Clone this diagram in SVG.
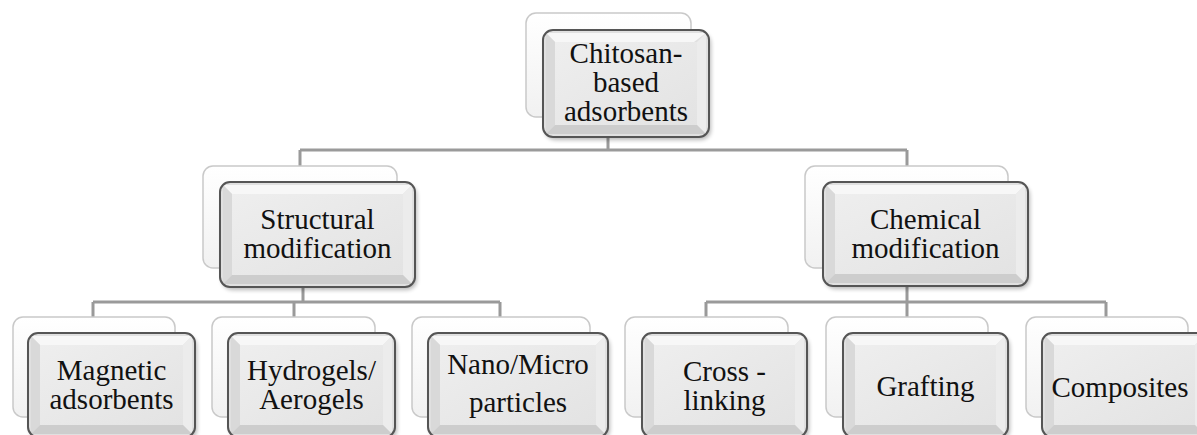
<svg xmlns="http://www.w3.org/2000/svg" width="1197" height="435" viewBox="0 0 1197 435">
<style>
.conn{fill:none;stroke:#9a9a9a;stroke-width:3}
.back{fill:url(#gBack);stroke:#c9c9c9;stroke-width:1.5}
.shadow{fill:#000;opacity:.28;filter:url(#blur)}
.base{fill:#e0e0e0}
.bt{fill:#f7f7f7}
.bl{fill:#d9d9d9}
.br{fill:#ececec}
.bb{fill:#cdcdcd}
.panel{fill:url(#gPanel)}
.rim{fill:none;stroke:#555;stroke-width:2}
.lbl{font-family:"Liberation Serif","Times New Roman",serif;font-size:29px;fill:#111;text-anchor:middle}
</style>
<defs>
<linearGradient id="gBack" x1="0" y1="0" x2="0" y2="1"><stop offset="0" stop-color="#ffffff"/><stop offset="1" stop-color="#f1f1f1"/></linearGradient>
<linearGradient id="gPanel" x1="0" y1="0" x2="1" y2="1"><stop offset="0" stop-color="#eeeeee"/><stop offset="1" stop-color="#e3e3e3"/></linearGradient>
<filter id="blur" x="-10%" y="-10%" width="120%" height="120%"><feGaussianBlur stdDeviation="2"/></filter>
</defs>
<rect width="1197" height="435" fill="#fff"/>
<g id="connectors">
<path class="conn" d="M608 137V150M300 150H907M300 150V166M907 150V166"/>
<path class="conn" d="M303 287V302M93 302H500M93 302V317M294 302V317M500 302V317"/>
<path class="conn" d="M907 286V302M706 302H1106M706 302V317M907 302V317M1106 302V317"/>
</g>
<g id="n-root">
<rect class="back" x="526" y="13" width="165" height="104" rx="10"/>
<rect class="shadow" x="545" y="33" width="166" height="107" rx="10"/>
<rect class="base" x="543" y="30" width="166" height="107" rx="10"/>
<polygon class="bt" points="546,33 706,33 694,42 555,42"/>
<polygon class="bl" points="546,33 555,42 555,125 546,134"/>
<polygon class="br" points="706,33 706,134 697,125 697,42"/>
<polygon class="bb" points="546,134 555,125 697,125 706,134"/>
<rect class="panel" x="555" y="42" width="142" height="83"/>
<rect class="rim" x="543" y="30" width="166" height="107" rx="10"/>
<text class="lbl" x="626" y="63">Chitosan-</text>
<text class="lbl" x="626" y="92">based</text>
<text class="lbl" x="626" y="121">adsorbents</text>
</g>
<g id="n-structural">
<rect class="back" x="203" y="166" width="194" height="102" rx="10"/>
<rect class="shadow" x="222" y="185" width="195" height="105" rx="10"/>
<rect class="base" x="220" y="182" width="195" height="105" rx="10"/>
<polygon class="bt" points="223,185 412,185 403,194 232,194"/>
<polygon class="bl" points="223,185 232,194 232,275 223,284"/>
<polygon class="br" points="412,185 412,284 403,275 403,194"/>
<polygon class="bb" points="223,284 232,275 403,275 412,284"/>
<rect class="panel" x="232" y="194" width="171" height="81"/>
<rect class="rim" x="220" y="182" width="195" height="105" rx="10"/>
<text class="lbl" x="317.5" y="229">Structural</text>
<text class="lbl" x="317.5" y="258">modification</text>
</g>
<g id="n-chemical">
<rect class="back" x="805" y="166" width="203" height="102" rx="10"/>
<rect class="shadow" x="825" y="185" width="205" height="104" rx="10"/>
<rect class="base" x="823" y="182" width="205" height="104" rx="10"/>
<polygon class="bt" points="826,185 1025,185 1016,194 835,194"/>
<polygon class="bl" points="826,185 835,194 835,274 826,283"/>
<polygon class="br" points="1025,185 1025,283 1016,274 1016,194"/>
<polygon class="bb" points="826,283 835,274 1016,274 1025,283"/>
<rect class="panel" x="835" y="194" width="181" height="80"/>
<rect class="rim" x="823" y="182" width="205" height="104" rx="10"/>
<text class="lbl" x="925.5" y="229">Chemical</text>
<text class="lbl" x="925.5" y="258">modification</text>
</g>
<g id="n-magnetic">
<rect class="back" x="13" y="317" width="162" height="100" rx="10"/>
<rect class="shadow" x="30" y="336" width="167" height="104" rx="10"/>
<rect class="base" x="28" y="333" width="167" height="104" rx="10"/>
<polygon class="bt" points="31,336 192,336 183,345 40,345"/>
<polygon class="bl" points="31,336 40,345 40,425 31,434"/>
<polygon class="br" points="192,336 192,434 183,425 183,345"/>
<polygon class="bb" points="31,434 40,425 183,425 192,434"/>
<rect class="panel" x="40" y="345" width="143" height="80"/>
<rect class="rim" x="28" y="333" width="167" height="104" rx="10"/>
<text class="lbl" x="111.5" y="380">Magnetic</text>
<text class="lbl" x="111.5" y="409">adsorbents</text>
</g>
<g id="n-hydrogels">
<rect class="back" x="212" y="317" width="163" height="100" rx="10"/>
<rect class="shadow" x="230" y="336" width="167" height="104" rx="10"/>
<rect class="base" x="228" y="333" width="167" height="104" rx="10"/>
<polygon class="bt" points="231,336 392,336 383,345 240,345"/>
<polygon class="bl" points="231,336 240,345 240,425 231,434"/>
<polygon class="br" points="392,336 392,434 383,425 383,345"/>
<polygon class="bb" points="231,434 240,425 383,425 392,434"/>
<rect class="panel" x="240" y="345" width="143" height="80"/>
<rect class="rim" x="228" y="333" width="167" height="104" rx="10"/>
<text class="lbl" x="311.5" y="380">Hydrogels/</text>
<text class="lbl" x="311.5" y="409">Aerogels</text>
</g>
<g id="n-nano">
<rect class="back" x="412" y="317" width="178" height="100" rx="10"/>
<rect class="shadow" x="430" y="336" width="180" height="104" rx="10"/>
<rect class="base" x="428" y="333" width="180" height="104" rx="10"/>
<polygon class="bt" points="431,336 605,336 596,345 440,345"/>
<polygon class="bl" points="431,336 440,345 440,425 431,434"/>
<polygon class="br" points="605,336 605,434 596,425 596,345"/>
<polygon class="bb" points="431,434 440,425 596,425 605,434"/>
<rect class="panel" x="440" y="345" width="156" height="80"/>
<rect class="rim" x="428" y="333" width="180" height="104" rx="10"/>
<text class="lbl" x="518" y="374">Nano/Micro</text>
<text class="lbl" x="518" y="412">particles</text>
</g>
<g id="n-crosslinking">
<rect class="back" x="625" y="317" width="163" height="100" rx="10"/>
<rect class="shadow" x="644" y="336" width="165" height="104" rx="10"/>
<rect class="base" x="642" y="333" width="165" height="104" rx="10"/>
<polygon class="bt" points="645,336 804,336 795,345 654,345"/>
<polygon class="bl" points="645,336 654,345 654,425 645,434"/>
<polygon class="br" points="804,336 804,434 795,425 795,345"/>
<polygon class="bb" points="645,434 654,425 795,425 804,434"/>
<rect class="panel" x="654" y="345" width="141" height="80"/>
<rect class="rim" x="642" y="333" width="165" height="104" rx="10"/>
<text class="lbl" x="724.5" y="381">Cross -</text>
<text class="lbl" x="724.5" y="410">linking</text>
</g>
<g id="n-grafting">
<rect class="back" x="826" y="317" width="162" height="100" rx="10"/>
<rect class="shadow" x="845" y="336" width="165" height="104" rx="10"/>
<rect class="base" x="843" y="333" width="165" height="104" rx="10"/>
<polygon class="bt" points="846,336 1005,336 996,345 855,345"/>
<polygon class="bl" points="846,336 855,345 855,425 846,434"/>
<polygon class="br" points="1005,336 1005,434 996,425 996,345"/>
<polygon class="bb" points="846,434 855,425 996,425 1005,434"/>
<rect class="panel" x="855" y="345" width="141" height="80"/>
<rect class="rim" x="843" y="333" width="165" height="104" rx="10"/>
<text class="lbl" x="925.5" y="396">Grafting</text>
</g>
<g id="n-composites">
<rect class="back" x="1026" y="317" width="162" height="100" rx="10"/>
<rect class="shadow" x="1044" y="336" width="165" height="104" rx="10"/>
<rect class="base" x="1042" y="333" width="165" height="104" rx="10"/>
<polygon class="bt" points="1045,336 1204,336 1195,345 1054,345"/>
<polygon class="bl" points="1045,336 1054,345 1054,425 1045,434"/>
<polygon class="br" points="1204,336 1204,434 1195,425 1195,345"/>
<polygon class="bb" points="1045,434 1054,425 1195,425 1204,434"/>
<rect class="panel" x="1054" y="345" width="141" height="80"/>
<rect class="rim" x="1042" y="333" width="165" height="104" rx="10"/>
<text class="lbl" x="1120" y="397">Composites</text>
</g>
</svg>
